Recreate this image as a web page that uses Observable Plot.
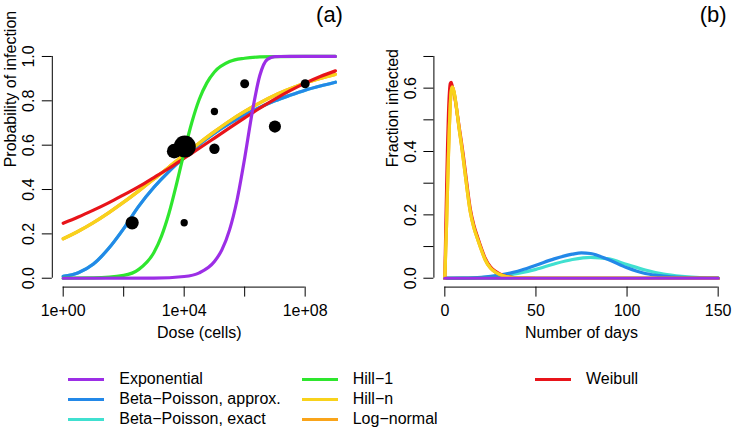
<!DOCTYPE html>
<html>
<head>
<meta charset="utf-8">
<script src="https://cdn.jsdelivr.net/npm/d3@7"></script>
<script src="https://cdn.jsdelivr.net/npm/@observablehq/plot@0.6"></script>
<style>
  html, body { margin: 0; padding: 0; background: #ffffff; }
  #fig { position: relative; width: 732px; height: 435px; background: #ffffff;
         font-family: "Liberation Sans", Arial, Helvetica, sans-serif; color: #000; overflow: hidden; }
  #fig svg { position: absolute; top: 0; }
  .leg-line { position: absolute; height: 3px; }
  .leg-text { position: absolute; font-size: 16px; line-height: 20px; white-space: nowrap; }
</style>
</head>
<body>
<div id="fig"></div>
<script>
// ---------------- Models ----------------
const modelNames = ["Exponential", "Beta\u2212Poisson, approx.", "Beta\u2212Poisson, exact",
                    "Hill\u22121", "Hill\u2212n", "Log\u2212normal", "Weibull"];
const modelColors = ["#9C2EE6", "#2388E8", "#40E0D0", "#2EE62E", "#F8D21C", "#F9A41A", "#E8141A"];

// ---------------- Panel (a): dose-response ----------------
const doseExpGrid = [0, 0.5, 1, 1.5, 2, 2.5, 3, 3.5, 4, 4.5, 5, 5.5, 6, 6.5, 7, 7.5, 8, 8.5, 9];
const pBetaPoissonApprox = [0.0085, 0.025, 0.064, 0.134, 0.224, 0.325, 0.41, 0.482, 0.545, 0.603, 0.654, 0.698, 0.737, 0.770, 0.800, 0.825, 0.848, 0.867, 0.884];
const pBetaPoissonExact  = [0.0085, 0.025, 0.064, 0.134, 0.224, 0.325, 0.41, 0.482, 0.545, 0.603, 0.654, 0.698, 0.737, 0.770, 0.800, 0.825, 0.848, 0.867, 0.884];
const pHillN     = [0.178, 0.212, 0.251, 0.295, 0.343, 0.394, 0.447, 0.502, 0.557, 0.610, 0.661, 0.709, 0.752, 0.791, 0.825, 0.854, 0.880, 0.901, 0.919];
const pLogNormal = [0.178, 0.212, 0.251, 0.295, 0.343, 0.394, 0.447, 0.502, 0.557, 0.610, 0.661, 0.709, 0.752, 0.791, 0.825, 0.854, 0.880, 0.901, 0.919];
const pWeibull   = [0.248, 0.276, 0.307, 0.340, 0.376, 0.413, 0.454, 0.496, 0.541, 0.586, 0.632, 0.678, 0.723, 0.767, 0.808, 0.846, 0.880, 0.910, 0.935];
const hill1DoseExp = [0, 1, 2, 2.5, 3, 3.25, 3.5, 3.75, 4, 4.25, 4.5, 4.75, 5, 5.5, 6, 6.5, 7, 8, 9];
const pHill1       = [0.0001, 0.0013, 0.013, 0.040, 0.116, 0.19, 0.294, 0.426, 0.569, 0.701, 0.807, 0.881, 0.930, 0.977, 0.992, 0.998, 0.9995, 1, 1];
const expoDoseExp  = [0, 3, 4, 4.5, 5, 5.25, 5.5, 5.75, 6, 6.25, 6.5, 6.75, 7, 7.5, 9];
const pExponential = [0, 0.0008, 0.0078, 0.0243, 0.075, 0.129, 0.218, 0.354, 0.541, 0.749, 0.914, 0.987, 0.9996, 1, 1];

const obsDoseExp = [2.28, 4.0, 3.67, 4.02, 5, 5, 6, 7, 8];
const obsProb    = [0.25, 0.25, 0.573, 0.594, 0.584, 0.752, 0.877, 0.684, 0.877];
const obsWeight  = [13, 4, 16, 36, 8, 4, 6, 11, 6];

const xLimExpA = [0, 9];
const yLimA = [0, 1];
const xTicksA = [1, 1e2, 1e4, 1e6, 1e8];
const xTickLabelsA = ["1e+00", "", "1e+04", "", "1e+08"];
const yTicksA = [0, 0.2, 0.4, 0.6, 0.8, 1.0];
const yTickLabelsA = ["0.0", "0.2", "0.4", "0.6", "0.8", "1.0"];
const xTitleA = "Dose (cells)";
const yTitleA = "Probability of infection";
const panelTagA = "(a)";

// ---------------- Panel (b): epidemic curves ----------------
const dayGridFast = [0, 0.5, 1, 1.5, 2, 2.5, 3, 3.5, 4, 5, 6, 7, 8, 9, 10, 12, 14, 16, 18, 20, 22, 25, 28, 32, 36, 40, 50, 150];
const fWeibull   = [0, 0.15, 0.29, 0.42, 0.52, 0.585, 0.615, 0.618, 0.608, 0.585, 0.552, 0.512, 0.472, 0.434, 0.394, 0.302, 0.218, 0.166, 0.129, 0.095, 0.065, 0.036, 0.021, 0.009, 0.004, 0.0015, 0, 0];
const fHillN     = [0, 0.09, 0.18, 0.29, 0.39, 0.48, 0.55, 0.59, 0.603, 0.59, 0.555, 0.51, 0.465, 0.425, 0.382, 0.29, 0.208, 0.158, 0.123, 0.09, 0.06, 0.032, 0.018, 0.008, 0.003, 0.001, 0, 0];
const fLogNormal = [0, 0.09, 0.18, 0.29, 0.39, 0.48, 0.55, 0.59, 0.603, 0.59, 0.555, 0.51, 0.465, 0.425, 0.382, 0.29, 0.208, 0.158, 0.123, 0.09, 0.06, 0.032, 0.018, 0.008, 0.003, 0.001, 0, 0];
const dayGridBPApprox = [0, 10, 20, 30, 40, 50, 60, 70, 75, 80, 90, 100, 110, 120, 130, 140, 150];
const fBetaPoissonApprox = [0, 0.0005, 0.003, 0.010, 0.022, 0.041, 0.061, 0.076, 0.080, 0.078, 0.058, 0.033, 0.015, 0.007, 0.003, 0.001, 0.0003];
const dayGridBPExact = [0, 10, 20, 30, 40, 50, 60, 70, 80, 90, 100, 110, 120, 130, 140, 150];
const fBetaPoissonExact = [0, 0.0003, 0.002, 0.007, 0.015, 0.028, 0.045, 0.059, 0.066, 0.061, 0.043, 0.026, 0.013, 0.006, 0.002, 0.001];
const dayGridFlat = [0, 150];
const fExponential = [0, 0];
const fHill1 = [0, 0];

const xLimB = [0, 150];
const yLimB = [0, 0.7];
const xTicksB = [0, 50, 100, 150];
const xTickLabelsB = ["0", "50", "100", "150"];
const yTicksB = [0, 0.1, 0.2, 0.3, 0.4, 0.5, 0.6, 0.7];
const yTickLabelsB = ["0.0", "", "0.2", "", "0.4", "", "0.6", ""];
const xTitleB = "Number of days";
const yTitleB = "Fraction infected";
const panelTagB = "(b)";

// ---------------- helpers ----------------
const expand = ([a, b]) => [a - 0.04 * (b - a), b + 0.04 * (b - a)];
const series = (xs, ys, name, fx = (v) => v) => xs.map((x, i) => ({x: fx(x), y: ys[i], model: name}));
const pow10 = (e) => Math.pow(10, e);
const colorOf = (name) => modelColors[modelNames.indexOf(name)];
const font = '"Liberation Sans", Arial, Helvetica, sans-serif';
const lineMark = (data, name) => Plot.line(data, {x: "x", y: "y", stroke: colorOf(name), strokeWidth: 3.2, curve: "monotone-x", strokeLinejoin: "round"});

const fig = document.getElementById("fig");

// ---------------- Plot (a) ----------------
const xDomA = expand(xLimExpA).map(pow10);
const yDomA = expand(yLimA);
const obs = obsDoseExp.map((e, i) => ({x: pow10(e), y: obsProb[i], w: obsWeight[i]}));

const plotA = Plot.plot({
  width: 366, height: 345,
  marginLeft: 51.8, marginRight: 20.2, marginTop: 47.1, marginBottom: 58.4,
  x: {type: "log", domain: xDomA},
  y: {domain: yDomA},
  r: {type: "sqrt", domain: [0, 36], range: [0, 11]},
  style: {fontFamily: font, fontSize: "16px", color: "#000", background: "transparent", overflow: "visible"},
  marks: [
    Plot.axisX({ticks: xTicksA, tickSize: 10, tickPadding: 8, label: null,
                tickFormat: (d) => xTickLabelsA[xTicksA.indexOf(d)] ?? ""}),
    Plot.axisY({ticks: yTicksA, tickSize: 10, label: null, tickFormat: () => ""}),
    Plot.ruleY([yDomA[0]], {x1: xTicksA[0], x2: xTicksA[xTicksA.length - 1], stroke: "#000"}),
    Plot.ruleX([xDomA[0]], {y1: yTicksA[0], y2: yTicksA[yTicksA.length - 1], stroke: "#000"}),
    Plot.text(yTicksA, {y: (d) => d, text: (d, i) => yTickLabelsA[i], frameAnchor: "left", rotate: -90,
                        dx: -23, lineAnchor: "middle", textAnchor: "middle", fontSize: 16}),
    lineMark(series(doseExpGrid, pBetaPoissonExact, modelNames[2], pow10), modelNames[2]),
    lineMark(series(doseExpGrid, pBetaPoissonApprox, modelNames[1], pow10), modelNames[1]),
    lineMark(series(doseExpGrid, pLogNormal, modelNames[5], pow10), modelNames[5]),
    lineMark(series(doseExpGrid, pHillN, modelNames[4], pow10), modelNames[4]),
    lineMark(series(doseExpGrid, pWeibull, modelNames[6], pow10), modelNames[6]),
    lineMark(series(hill1DoseExp, pHill1, modelNames[3], pow10), modelNames[3]),
    lineMark(series(expoDoseExp, pExponential, modelNames[0], pow10), modelNames[0]),
    Plot.dot(obs, {x: "x", y: "y", r: "w", fill: "#000"}),
    Plot.text([xTitleA], {text: (d) => d, frameAnchor: "bottom", dy: 50.5, lineAnchor: "bottom", fontSize: 16}),
    Plot.text([yTitleA], {text: (d) => d, frameAnchor: "left", rotate: -90, dx: -41.5, lineAnchor: "middle", fontSize: 16}),
    Plot.text([panelTagA], {text: (d) => d, frameAnchor: "top-right", dx: -16.8, dy: -33, lineAnchor: "middle", textAnchor: "middle", fontSize: 22})
  ]
});
plotA.style.left = "0px";
fig.appendChild(plotA);

// ---------------- Plot (b) ----------------
const xDomB = expand(xLimB);
const yDomB = expand(yLimB);

const plotB = Plot.plot({
  width: 366, height: 345,
  marginLeft: 67.4, marginRight: 3.4, marginTop: 47.1, marginBottom: 58.4,
  x: {domain: xDomB},
  y: {domain: yDomB},
  style: {fontFamily: font, fontSize: "16px", color: "#000", background: "transparent", overflow: "visible"},
  marks: [
    Plot.axisX({ticks: xTicksB, tickSize: 10, tickPadding: 8, label: null,
                tickFormat: (d) => xTickLabelsB[xTicksB.indexOf(d)] ?? ""}),
    Plot.axisY({ticks: yTicksB, tickSize: 10, label: null, tickFormat: () => ""}),
    Plot.ruleY([yDomB[0]], {x1: xTicksB[0], x2: xTicksB[xTicksB.length - 1], stroke: "#000"}),
    Plot.ruleX([xDomB[0]], {y1: yTicksB[0], y2: yTicksB[yTicksB.length - 1], stroke: "#000"}),
    Plot.text(yTicksB, {y: (d) => d, text: (d, i) => yTickLabelsB[i], frameAnchor: "left", rotate: -90,
                        dx: -23, lineAnchor: "middle", textAnchor: "middle", fontSize: 16}),
    lineMark(series(dayGridBPExact, fBetaPoissonExact, modelNames[2]), modelNames[2]),
    lineMark(series(dayGridBPApprox, fBetaPoissonApprox, modelNames[1]), modelNames[1]),
    lineMark(series(dayGridFlat, fHill1, modelNames[3]), modelNames[3]),
    lineMark(series(dayGridFast, fWeibull, modelNames[6]), modelNames[6]),
    lineMark(series(dayGridFast, fLogNormal, modelNames[5]), modelNames[5]),
    lineMark(series(dayGridFast, fHillN, modelNames[4]), modelNames[4]),
    lineMark(series(dayGridFlat, fExponential, modelNames[0]), modelNames[0]),
    Plot.text([xTitleB], {text: (d) => d, frameAnchor: "bottom", dy: 50.5, lineAnchor: "bottom", fontSize: 16}),
    Plot.text([yTitleB], {text: (d) => d, frameAnchor: "left", rotate: -90, dx: -41.5, lineAnchor: "middle", fontSize: 16}),
    Plot.text([panelTagB], {text: (d) => d, frameAnchor: "top-right", dx: -15.9, dy: -33, lineAnchor: "middle", textAnchor: "middle", fontSize: 22})
  ]
});
plotB.style.left = "366px";
fig.appendChild(plotB);

// ---------------- Legend (below the plots) ----------------
const legendColumns = [[0, 1, 2], [3, 4, 5], [6]];
const legendColLeft = [68.3, 301.7, 535];
const legendRowY = [379, 399, 419.3];
legendColumns.forEach((col, ci) => {
  col.forEach((mi, ri) => {
    const ln = document.createElement("div");
    ln.className = "leg-line";
    ln.style.left = legendColLeft[ci] + "px";
    ln.style.top = (legendRowY[ri] - 1.5) + "px";
    ln.style.width = "36px";
    ln.style.background = modelColors[mi];
    fig.appendChild(ln);
    const tx = document.createElement("div");
    tx.className = "leg-text";
    tx.style.left = (legendColLeft[ci] + 51) + "px";
    tx.style.top = (legendRowY[ri] - 10) + "px";
    tx.textContent = modelNames[mi];
    fig.appendChild(tx);
  });
});
</script>
</body>
</html>
